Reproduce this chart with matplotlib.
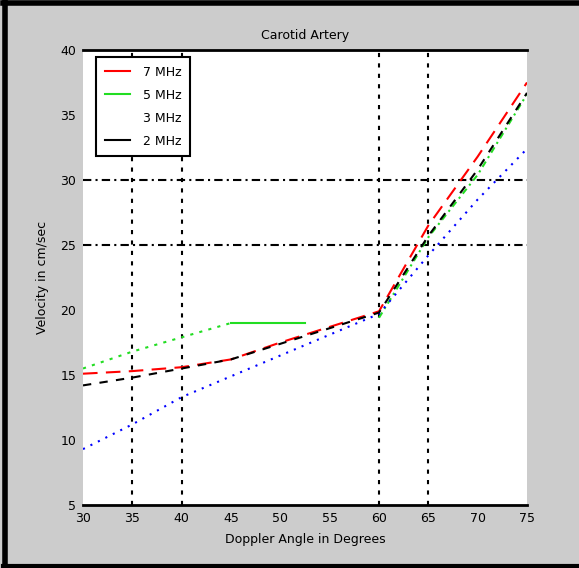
import matplotlib
matplotlib.use("Agg")
import matplotlib.pyplot as plt
import numpy as np
from matplotlib.lines import Line2D

# 数据
angles = [30, 35, 40, 45, 50, 55, 60, 65, 70, 75]
v_7mhz = [15.1, 15.3, 15.6, 16.2, 17.5, 18.7, 19.9, 26.5, 31.8, 37.5]
v_3mhz = [9.3, 11.2, 13.3, 14.9, 16.5, 18.1, 19.7, 24.2, 28.5, 32.4]
v_2mhz = [14.2, 14.8, 15.5, 16.2, 17.4, 18.6, 19.8, 25.7, 30.8, 36.7]
# 5 MHz 曲线中间有一段断开
angles_5mhz = [30, 35, 40, 45, 52.5, np.nan, 60, 65, 70, 75]
v_5mhz = [15.5, 16.8, 17.9, 19.0, 19.0, np.nan, 19.4, 25.6, 30.4, 36.6]

labels = ["7 MHz", "5 MHz", "3 MHz", "2 MHz"]
x_ticks = [30, 35, 40, 45, 50, 55, 60, 65, 70, 75]
y_ticks = [5, 10, 15, 20, 25, 30, 35, 40]
v_grid = [35, 40, 60, 65]
h_grid = [25, 30]

plt.rcParams.update({
    'font.family': ['DejaVu Sans'],
    'font.size': 9,
})

fig = plt.figure(figsize=(5.79, 5.68), dpi=100, facecolor="#cccccc")
ax = fig.add_axes([83/579, 1-505/568, 444/579, 455/568])
ax.set_facecolor("white")

# 网格线
for gx in v_grid:
    ax.axvline(gx, color="black", lw=1.5, ls=(0, (2, 3)), zorder=1)
for gy in h_grid:
    ax.axhline(gy, color="black", lw=1.5, ls=(0, (4, 2, 1, 2)), zorder=1)

# 曲线
g = np.array(angles_5mhz)
gv = np.array(v_5mhz)
ax.plot(angles, v_7mhz, color="red", lw=1.5, ls=(0, (7, 4)), zorder=3)
ax.plot(g[:4], gv[:4], color="#22dd22", lw=1.5, ls=(0, (1.5, 3)), zorder=3)
ax.plot(g[3:5], gv[3:5], color="#22dd22", lw=1.5, ls="-", zorder=3)
ax.plot(g[6:], gv[6:], color="#22dd22", lw=1.5, ls=(0, (3, 2, 1, 2)), zorder=3)
ax.plot(angles, v_3mhz, color="blue", lw=1.5, ls=(0, (1, 3)), zorder=3)
ax.plot(angles, v_2mhz, color="black", lw=1.5, ls=(0, (4, 4)), zorder=3)

handles = [
    Line2D([], [], color="red", lw=1.5),
    Line2D([], [], color="#22dd22", lw=1.5),
    Line2D([], [], color="white", lw=1.5),
    Line2D([], [], color="black", lw=1.5),
]
leg = ax.legend(handles, labels, loc="upper left", bbox_to_anchor=(0.03, 0.985),
                borderaxespad=0, fancybox=False, handlelength=2.0,
                handletextpad=1.0, borderpad=0.7,
                labelspacing=0.8, framealpha=1, edgecolor="black")
leg.get_frame().set_linewidth(1.5)

ax.set_xlim(30, 75)
ax.set_ylim(5, 40)
ax.set_xticks(x_ticks)
ax.set_yticks(y_ticks)
ax.tick_params(length=0, pad=5)

for s in ["left", "right"]:
    ax.spines[s].set_visible(False)
for s in ["top", "bottom"]:
    ax.spines[s].set_linewidth(2)

ax.set_title("Carotid Artery", fontsize=9, pad=8)
ax.set_xlabel("Doppler Angle in Degrees", labelpad=6)
ax.set_ylabel("Velocity in cm/sec", labelpad=8)

# 外框
fig.add_artist(Line2D([5/579, 5/579], [0, 1], color="black", lw=4, transform=fig.transFigure))
fig.add_artist(Line2D([3/579, 1], [1-3/568, 1-3/568], color="black", lw=4, transform=fig.transFigure))
fig.add_artist(Line2D([3/579, 1], [2/568, 2/568], color="black", lw=3, transform=fig.transFigure))

fig.savefig("out.png", dpi=100, facecolor=fig.get_facecolor())
